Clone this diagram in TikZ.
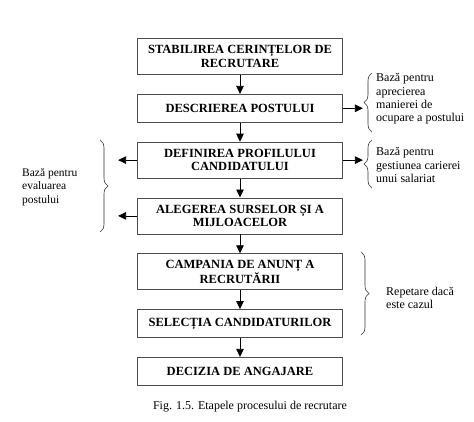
\documentclass[tikz,border=0pt]{standalone}
\usepackage{fontspec}
\setmainfont{Liberation Serif}
\usepackage{tikz}
\usetikzlibrary{calc,positioning,arrows.meta,chains,%
    decorations.pathreplacing}
\tikzset{
    >={Triangle[length=8pt,width=7.5pt]},
    etapa/.style={
        rectangle,
        draw=black!70, line width=0.8pt,
        minimum width=205pt,
        minimum height=28pt,
        inner sep=3pt,
        align=center,
        font={\fontsize{12.5pt}{13.5pt}\bfseries\selectfont},
        on chain
    },
    dublu/.style={minimum height=36pt},
    line/.style={draw, line width=0.8pt, ->},
    every join/.style={->, line width=0.8pt},
    decoration={brace, amplitude=8pt},
    tuborg/.style={decorate, line width=0.6pt, black!80},
    nota/.style={align=left, inner sep=0pt, font={\fontsize{12pt}{13.3pt}\selectfont}},
}

\begin{document}
\begin{tikzpicture}
[
    x=1pt, y=-1pt,
    start chain=going below,
    node distance=19pt,
]
\useasboundingbox (0,0) rectangle (474,421);
% etapele
\node[etapa, dublu] (s1) at (240,56.5) {STABILIREA CERINȚELOR DE\\RECRUTARE};
\node[etapa, join] (s2) {DESCRIEREA POSTULUI};
\node[etapa, dublu, join] (s3) {DEFINIREA PROFILULUI\\CANDIDATULUI};
\node[etapa, dublu, join] (s4) {ALEGEREA SURSELOR ȘI A\\MIJLOACELOR};
\node[etapa, dublu, join] (s5) {CAMPANIA DE ANUNȚ A\\RECRUTĂRII};
\node[etapa, join] (s6) {SELECȚIA CANDIDATURILOR};
\node[etapa, join] (s7) {DECIZIA DE ANGAJARE};

% sageti laterale
\coordinate (r2) at ($(s2.east)+(20,0)$);
\coordinate (r3) at ($(s3.east)+(20,0)$);
\coordinate (l3) at ($(s3.west)+(-19,0)$);
\coordinate (l4) at ($(s4.west)+(-19,0)$);
\draw[line] (s2.east) -- (r2);
\draw[line] (s3.east) -- (r3);
\draw[line] (s3.west) -- (l3);
\draw[line] (s4.west) -- (l4);

% acolade
\coordinate (b1a) at (372,132);
\coordinate (b1b) at (372,73);
\coordinate (b2a) at (372,188);
\coordinate (b2b) at (372,140);
\coordinate (b3a) at (100,140);
\coordinate (b3b) at (100,232);
\coordinate (b4a) at (361,252);
\coordinate (b4b) at (361,335);
\draw[tuborg] (b1a) -- (b1b);
\draw[tuborg] (b2a) -- (b2b);
\draw[tuborg] (b3a) -- (b3b);
\draw[tuborg] (b4a) -- (b4b);

\node[nota, anchor=west] (n1) at (376,99) {Bază pentru\\aprecierea\\manierei de\\ocupare a postului};
\node[nota, anchor=west] (n2) at (376,165) {Bază pentru\\gestiunea carierei\\unui salariat};
\node[nota, anchor=west, font={\fontsize{11.5pt}{13.5pt}\selectfont}] (n3) at (22,187) {Bază pentru\\evaluarea\\postului};
\node[nota, anchor=west] (n4) at (386,298) {Repetare dacă\\este cazul};

\node[font={\fontsize{12pt}{13pt}\selectfont}] (cap) at (250,407) {Fig. 1.5. Etapele procesului de recrutare};
\end{tikzpicture}
\end{document}
